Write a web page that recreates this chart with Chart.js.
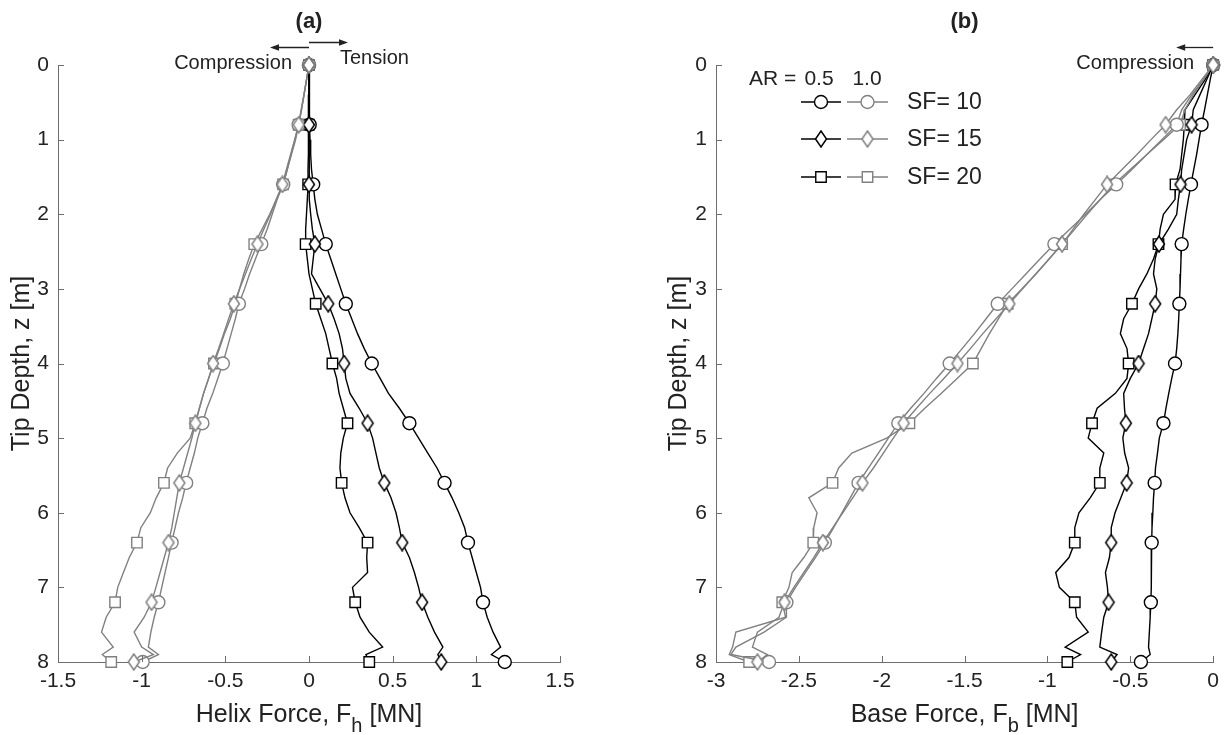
<!DOCTYPE html>
<html><head><meta charset="utf-8">
<script src="https://cdn.jsdelivr.net/npm/chart.js@4/dist/chart.umd.min.js"></script>
<style>
html,body{margin:0;padding:0;background:#fff;}
#wrap{position:relative;width:1226px;height:735px;overflow:hidden;}
canvas{position:absolute;top:0;}
#ca{left:0px}
#cb{left:613px}
</style></head><body>
<div id="wrap"><canvas id="ca" width="613" height="735"></canvas><canvas id="cb" width="613" height="735"></canvas></div>
<script>
// ---------- DATA ----------
const depth = [0,0.2,0.4,0.6,0.8,1.0,1.2,1.4,1.6,1.8,2.0,2.2,2.4,2.6,2.8,3.0,3.2,3.4,3.6,3.8,4.0,4.2,4.4,4.6,4.8,5.0,5.2,5.4,5.6,5.8,6.0,6.2,6.4,6.6,6.8,7.0,7.2,7.4,7.6,7.8,7.9,8.0];

// (a) Helix force [MN], AR = 0.5 (black)
const helix_05_sf10 = [0,0.002,0.003,0.002,0.004,0.006,0.010,0.015,0.025,0.035,0.05,0.075,0.10,0.13,0.16,0.19,0.22,0.255,0.29,0.33,0.375,0.425,0.475,0.54,0.60,0.655,0.71,0.765,0.81,0.855,0.895,0.93,0.95,0.975,1.00,1.025,1.04,1.065,1.10,1.145,1.09,1.17];
const helix_05_sf15 = [0,0.001,0.002,0.000,0.000,0.002,0.003,0.001,0.000,0.005,0.010,0.020,0.035,0.025,0.015,0.065,0.115,0.15,0.18,0.20,0.21,0.22,0.245,0.30,0.35,0.38,0.40,0.42,0.45,0.49,0.52,0.54,0.557,0.60,0.63,0.655,0.676,0.71,0.75,0.80,0.77,0.79];
const helix_05_sf20 = [0,0.000,-0.002,-0.003,-0.002,-0.004,-0.005,-0.006,-0.005,-0.010,-0.015,-0.020,-0.020,-0.010,0.000,0.020,0.040,0.070,0.100,0.120,0.140,0.165,0.180,0.205,0.230,0.205,0.190,0.185,0.195,0.215,0.245,0.300,0.350,0.345,0.350,0.260,0.276,0.305,0.360,0.440,0.340,0.360];
// (a) Helix force [MN], AR = 1.0 (grey)
const helix_10_sf10 = [0,-0.015,-0.03,-0.045,-0.062,-0.08,-0.105,-0.13,-0.154,-0.19,-0.22,-0.25,-0.285,-0.32,-0.355,-0.385,-0.419,-0.44,-0.465,-0.49,-0.515,-0.545,-0.575,-0.61,-0.637,-0.665,-0.685,-0.71,-0.734,-0.755,-0.78,-0.80,-0.821,-0.84,-0.86,-0.88,-0.90,-0.925,-0.945,-0.96,-0.90,-0.994];
const helix_10_sf15 = [0,-0.015,-0.03,-0.047,-0.062,-0.085,-0.11,-0.135,-0.159,-0.195,-0.23,-0.27,-0.308,-0.345,-0.38,-0.415,-0.449,-0.48,-0.51,-0.54,-0.573,-0.60,-0.63,-0.655,-0.679,-0.70,-0.725,-0.75,-0.775,-0.79,-0.805,-0.82,-0.84,-0.865,-0.89,-0.915,-0.941,-0.985,-1.045,-1.00,-0.93,-1.047];
const helix_10_sf20 = [0,-0.015,-0.03,-0.045,-0.062,-0.085,-0.108,-0.13,-0.155,-0.195,-0.235,-0.28,-0.327,-0.36,-0.39,-0.415,-0.44,-0.47,-0.505,-0.535,-0.568,-0.60,-0.63,-0.655,-0.68,-0.71,-0.787,-0.845,-0.867,-0.913,-0.948,-1.005,-1.028,-1.074,-1.109,-1.143,-1.159,-1.212,-1.24,-1.17,-1.235,-1.182];

// (b) Base force [MN], AR = 0.5 (black)
const base_05_sf10 = [0,-0.018,-0.035,-0.052,-0.07,-0.085,-0.10,-0.117,-0.134,-0.15,-0.165,-0.178,-0.19,-0.194,-0.197,-0.20,-0.204,-0.208,-0.213,-0.22,-0.23,-0.25,-0.268,-0.285,-0.30,-0.325,-0.336,-0.348,-0.353,-0.36,-0.364,-0.369,-0.371,-0.372,-0.375,-0.373,-0.376,-0.38,-0.385,-0.39,-0.38,-0.436];
const base_05_sf15 = [0,-0.04,-0.08,-0.12,-0.13,-0.16,-0.175,-0.19,-0.197,-0.21,-0.22,-0.27,-0.327,-0.35,-0.36,-0.34,-0.35,-0.37,-0.39,-0.42,-0.45,-0.50,-0.54,-0.535,-0.527,-0.545,-0.534,-0.51,-0.522,-0.557,-0.592,-0.615,-0.615,-0.626,-0.65,-0.638,-0.631,-0.66,-0.673,-0.684,-0.58,-0.615];
const base_05_sf20 = [0,-0.05,-0.11,-0.17,-0.174,-0.18,-0.19,-0.20,-0.227,-0.23,-0.30,-0.32,-0.33,-0.36,-0.40,-0.45,-0.49,-0.54,-0.56,-0.52,-0.51,-0.52,-0.59,-0.70,-0.731,-0.754,-0.66,-0.684,-0.684,-0.742,-0.81,-0.835,-0.835,-0.87,-0.95,-0.928,-0.835,-0.824,-0.754,-0.893,-0.80,-0.88];
// (b) Base force [MN], AR = 1.0 (grey)
const base_10_sf10 = [0,-0.06,-0.13,-0.19,-0.22,-0.31,-0.40,-0.49,-0.585,-0.68,-0.77,-0.865,-0.958,-1.045,-1.13,-1.215,-1.30,-1.37,-1.44,-1.515,-1.59,-1.67,-1.745,-1.825,-1.90,-1.96,-2.02,-2.08,-2.14,-2.19,-2.24,-2.29,-2.343,-2.40,-2.46,-2.52,-2.575,-2.575,-2.71,-2.88,-2.91,-2.68];
const base_10_sf15 = [0,-0.07,-0.14,-0.22,-0.287,-0.375,-0.46,-0.55,-0.64,-0.71,-0.78,-0.845,-0.912,-0.99,-1.07,-1.15,-1.23,-1.31,-1.39,-1.465,-1.543,-1.625,-1.71,-1.79,-1.868,-1.93,-1.99,-2.05,-2.116,-2.175,-2.235,-2.295,-2.355,-2.41,-2.47,-2.53,-2.587,-2.62,-2.75,-2.78,-2.69,-2.75];
const base_10_sf20 = [0,-0.06,-0.12,-0.17,-0.20,-0.30,-0.40,-0.50,-0.60,-0.68,-0.76,-0.835,-0.912,-0.99,-1.07,-1.155,-1.24,-1.295,-1.35,-1.40,-1.45,-1.545,-1.64,-1.74,-1.833,-1.97,-2.18,-2.26,-2.297,-2.44,-2.39,-2.41,-2.413,-2.47,-2.54,-2.56,-2.60,-2.58,-2.88,-2.90,-2.92,-2.80];

const helixTicks = [-1.5, 1.5, 0.5];   // min, max, step
const baseTicks = [-3, 0, 0.5];
const depthTicks = [0, 8, 1];
const markerSpacing = 0.8;
const arLabels = ['0.5', '1.0'];
const sfLabels = ['SF= 10', 'SF= 15', 'SF= 20'];

// ---------- STYLE ----------
const FONT = '"Liberation Sans", Arial, Helvetica, sans-serif';
const BLACK = '#000000';
const GREY = '#808080';
const AXIS = '#6e6e6e';
const TEXT = '#222222';
Chart.defaults.font.family = FONT;
Chart.defaults.color = TEXT;

function diamondImg(color) {
  const w = 14, h = 18;
  const c = document.createElement('canvas');
  c.width = w; c.height = h;
  const g = c.getContext('2d');
  g.fillStyle = '#fff'; g.strokeStyle = color; g.lineWidth = 1.5; g.lineJoin = 'miter';
  g.beginPath(); g.moveTo(w / 2, 1); g.lineTo(w - 1.5, h / 2); g.lineTo(w / 2, h - 1); g.lineTo(1.5, h / 2); g.closePath();
  g.fill(); g.stroke();
  return c;
}
const DIAMOND = { [BLACK]: diamondImg(BLACK), [GREY]: diamondImg(GREY) };
const RADIUS = { circle: 6.5, rect: 7.4, diamond: 7 };

function isMarker(y) {
  const q = y / markerSpacing;
  return Math.abs(q - Math.round(q)) < 1e-6;
}

function ds(label, xs, color, shape, order) {
  return {
    label,
    order,
    data: depth.map((d, i) => ({ x: xs[i], y: d })),
    showLine: true,
    borderColor: color,
    backgroundColor: '#fff',
    borderWidth: 1.4,
    tension: 0,
    clip: false,
    pointStyle: shape === 'diamond' ? DIAMOND[color] : shape,
    pointRadius: ctx => (ctx.raw && isMarker(ctx.raw.y)) ? RADIUS[shape] : 0,
    pointHoverRadius: 0,
    pointHitRadius: 0,
    pointBorderWidth: 1.4,
    pointBorderColor: color,
    pointBackgroundColor: '#fff'
  };
}

const fmt = v => String(Number(Number(v).toFixed(2)));

function scales(xt, yWidth) {
  return {
    x: {
      type: 'linear', min: xt[0], max: xt[1],
      ticks: { stepSize: xt[2], font: { size: 21 }, color: TEXT, padding: 7, maxRotation: 0, autoSkip: false, callback: fmt },
      grid: { display: false, drawTicks: false, tickLength: 0 },
      border: { display: true, color: AXIS, width: 1 },
      afterFit(s) { s.height = 73; }
    },
    y: {
      type: 'linear', reverse: true, min: depthTicks[0], max: depthTicks[1],
      ticks: { stepSize: depthTicks[2], font: { size: 21 }, color: TEXT, padding: 9, autoSkip: false, callback: fmt },
      grid: { display: false, drawTicks: false, tickLength: 0 },
      border: { display: true, color: AXIS, width: 1 },
      afterFit(s) { s.width = yWidth; }
    }
  };
}

function drawInwardTicks(chart) {
  const ctx = chart.ctx, a = chart.chartArea;
  const xs = chart.scales.x, ys = chart.scales.y;
  ctx.save();
  ctx.strokeStyle = AXIS; ctx.lineWidth = 1;
  ctx.beginPath();
  xs.ticks.forEach(t => { const p = Math.round(xs.getPixelForValue(t.value)) + 0.5; ctx.moveTo(p, a.bottom); ctx.lineTo(p, a.bottom - 6); });
  ys.ticks.forEach(t => { const p = Math.round(ys.getPixelForValue(t.value)) + 0.5; ctx.moveTo(a.left, p); ctx.lineTo(a.left + 6, p); });
  ctx.stroke();
  ctx.restore();
}

function arrow(ctx, x1, x2, y) {
  const dir = Math.sign(x2 - x1);
  ctx.beginPath(); ctx.moveTo(x1, y); ctx.lineTo(x2 - dir * 6, y); ctx.stroke();
  ctx.beginPath(); ctx.moveTo(x2, y); ctx.lineTo(x2 - dir * 9, y - 3.2); ctx.lineTo(x2 - dir * 9, y + 3.2); ctx.closePath(); ctx.fill();
}

function drawTitles(chart, title, main, sub, tail, yTitleX) {
  const ctx = chart.ctx, a = chart.chartArea;
  const cx = (a.left + a.right) / 2;
  ctx.save();
  ctx.fillStyle = TEXT;
  ctx.font = 'bold 22px ' + FONT; ctx.textAlign = 'center'; ctx.textBaseline = 'middle';
  ctx.fillText(title, cx, 22);
  // x axis title with subscript
  ctx.textBaseline = 'alphabetic'; ctx.textAlign = 'left';
  ctx.font = '25px ' + FONT; const w1 = ctx.measureText(main).width; const w3 = ctx.measureText(tail).width;
  ctx.font = '20px ' + FONT; const w2 = ctx.measureText(sub).width;
  let x = cx - (w1 + w2 + w3) / 2;
  const base = 722;
  ctx.font = '25px ' + FONT; ctx.fillText(main, x, base); x += w1;
  ctx.font = '20px ' + FONT; ctx.fillText(sub, x, base + 10); x += w2;
  ctx.font = '25px ' + FONT; ctx.fillText(tail, x, base);
  // y axis title
  ctx.save();
  ctx.translate(yTitleX, (a.top + a.bottom) / 2);
  ctx.rotate(-Math.PI / 2);
  ctx.textAlign = 'center'; ctx.textBaseline = 'middle';
  ctx.font = '25px ' + FONT;
  ctx.fillText('Tip Depth, z [m]', 0, 0);
  ctx.restore();
  ctx.restore();
}

const plugA = {
  id: 'annA',
  afterDraw(chart) {
    drawInwardTicks(chart);
    drawTitles(chart, '(a)', 'Helix Force, F', 'h', ' [MN]', 22);
    const ctx = chart.ctx;
    const p0 = chart.scales.x.getPixelForValue(0);
    ctx.save();
    ctx.fillStyle = TEXT; ctx.strokeStyle = TEXT; ctx.lineWidth = 1.3;
    ctx.font = '20px ' + FONT; ctx.textBaseline = 'middle';
    ctx.textAlign = 'right'; ctx.fillText('Compression', p0 - 17, 63);
    ctx.textAlign = 'left'; ctx.fillText('Tension', p0 + 31, 58);
    arrow(ctx, p0, p0 - 39, 47.5);
    arrow(ctx, p0, p0 + 39, 42.5);
    ctx.restore();
  }
};

const plugB = {
  id: 'annB',
  afterDraw(chart) {
    drawInwardTicks(chart);
    drawTitles(chart, '(b)', 'Base Force, F', 'b', ' [MN]', 66);
    const ctx = chart.ctx;
    const p0 = chart.scales.x.getPixelForValue(0);
    ctx.save();
    ctx.fillStyle = TEXT; ctx.strokeStyle = TEXT; ctx.lineWidth = 1.3;
    ctx.font = '20px ' + FONT; ctx.textBaseline = 'middle';
    ctx.textAlign = 'right'; ctx.fillText('Compression', p0 - 19, 63);
    arrow(ctx, p0, p0 - 37, 47.5);
    // legend
    ctx.font = '21px ' + FONT; ctx.textAlign = 'left';
    ctx.fillText('AR =', 136, 79);
    ctx.textAlign = 'center';
    ctx.fillText(arLabels[0], 206, 79);
    ctx.fillText(arLabels[1], 254, 79);
    const rows = [102, 139, 177];
    const shapes = ['circle', 'diamond', 'rect'];
    const cols = [[188, 228, 208, BLACK], [234, 275, 254.5, GREY]];
    rows.forEach((y, r) => {
      cols.forEach(c => {
        ctx.strokeStyle = c[3]; ctx.lineWidth = 1.4;
        ctx.beginPath(); ctx.moveTo(c[0], y); ctx.lineTo(c[1], y); ctx.stroke();
        ctx.fillStyle = '#fff';
        if (shapes[r] === 'circle') {
          ctx.beginPath(); ctx.arc(c[2], y, RADIUS.circle, 0, Math.PI * 2); ctx.fill(); ctx.stroke();
        } else if (shapes[r] === 'rect') {
          const s = RADIUS.rect * Math.SQRT1_2;
          ctx.beginPath(); ctx.rect(c[2] - s, y - s, 2 * s, 2 * s); ctx.fill(); ctx.stroke();
        } else {
          const img = DIAMOND[c[3]];
          ctx.drawImage(img, c[2] - img.width / 2, y - img.height / 2);
        }
      });
      ctx.fillStyle = TEXT; ctx.textAlign = 'left'; ctx.font = '23px ' + FONT;
      ctx.fillText(sfLabels[r], 294, y + 1);
      ctx.font = '21px ' + FONT;
    });
    ctx.restore();
  }
};

const common = {
  responsive: false,
  animation: false,
  events: [],
  plugins: { legend: { display: false }, tooltip: { enabled: false } }
};

// lower "order" is drawn on top
new Chart(document.getElementById('ca'), {
  type: 'scatter',
  data: {
    datasets: [
      ds('AR=0.5 SF=10', helix_05_sf10, BLACK, 'circle', 3),
      ds('AR=0.5 SF=15', helix_05_sf15, BLACK, 'diamond', 1),
      ds('AR=0.5 SF=20', helix_05_sf20, BLACK, 'rect', 5),
      ds('AR=1.0 SF=10', helix_10_sf10, GREY, 'circle', 2),
      ds('AR=1.0 SF=15', helix_10_sf15, GREY, 'diamond', 0),
      ds('AR=1.0 SF=20', helix_10_sf20, GREY, 'rect', 4)
    ]
  },
  options: Object.assign({}, common, {
    layout: { padding: { left: 0, right: 53, top: 65, bottom: 0 } },
    scales: scales(helixTicks, 58)
  }),
  plugins: [plugA]
});

new Chart(document.getElementById('cb'), {
  type: 'scatter',
  data: {
    datasets: [
      ds('AR=0.5 SF=10', base_05_sf10, BLACK, 'circle', 3),
      ds('AR=0.5 SF=15', base_05_sf15, BLACK, 'diamond', 1),
      ds('AR=0.5 SF=20', base_05_sf20, BLACK, 'rect', 5),
      ds('AR=1.0 SF=10', base_10_sf10, GREY, 'circle', 2),
      ds('AR=1.0 SF=15', base_10_sf15, GREY, 'diamond', 0),
      ds('AR=1.0 SF=20', base_10_sf20, GREY, 'rect', 4)
    ]
  },
  options: Object.assign({}, common, {
    layout: { padding: { left: 43, right: 10, top: 65, bottom: 0 } },
    scales: scales(baseTicks, 60)
  }),
  plugins: [plugB]
});
</script>
</body></html>
